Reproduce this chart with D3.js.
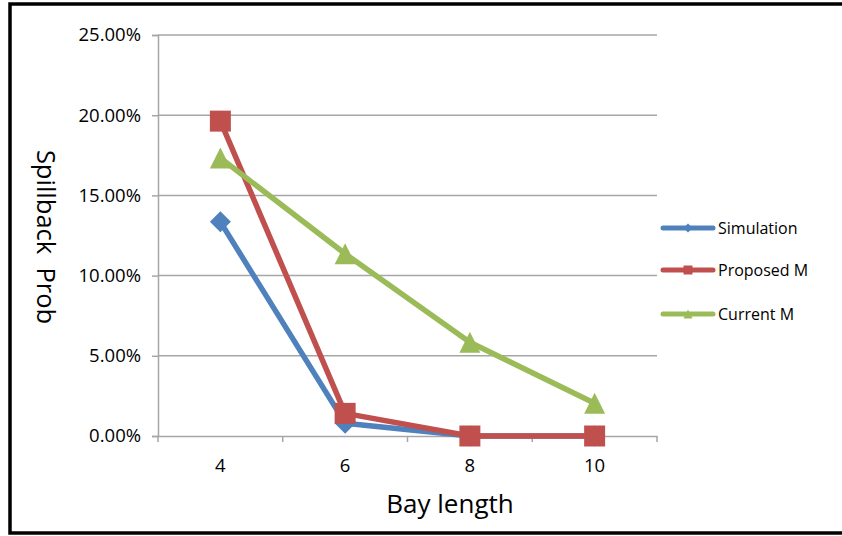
<!DOCTYPE html>
<html>
<head>
<meta charset="utf-8">
<script src="https://cdn.jsdelivr.net/npm/d3@7"></script>
<style>
  html, body { margin: 0; padding: 0; background: #fff; }
  svg { display: block; }
  text { font-family: "Open Sans", "Liberation Sans", sans-serif; fill: #000; }
</style>
</head>
<body>
<svg id="chart" width="842" height="536"></svg>
<script>
// Bay lengths on the category axis
const bayLengths = ["4", "6", "8", "10"];

// Spillback probability per series (fraction)
const simulation = [0.1335, 0.008, 0.0, 0.0];
const proposedM  = [0.1963, 0.0141, 0.0, 0.0];
const currentM   = [0.1733, 0.1136, 0.0585, 0.0204];

const seriesNames = ["Simulation", "Proposed M", "Current M"];
const yTickValues = [0, 0.05, 0.10, 0.15, 0.20, 0.25];

const series = [
  { name: seriesNames[0], values: simulation, color: "#4F81BD", symbol: "diamond" },
  { name: seriesNames[1], values: proposedM,  color: "#C0504D", symbol: "square" },
  { name: seriesNames[2], values: currentM,   color: "#9BBB59", symbol: "triangle" }
];

const svg = d3.select("#chart");

// Outer frame
svg.append("rect")
  .attr("x", 10).attr("y", 4)
  .attr("width", 840).attr("height", 529)
  .attr("fill", "none").attr("stroke", "#000").attr("stroke-width", 3.5);

const plot = { left: 158, right: 657, top: 35, bottom: 436 };

const x = d3.scaleBand().domain(bayLengths).range([plot.left, plot.right]);
const y = d3.scaleLinear().domain([0, 0.25]).range([plot.bottom, plot.top]);

const gridColor = "#A6A6A6";

// Horizontal gridlines
svg.append("g").selectAll("line")
  .data(yTickValues.filter(v => v > 0))
  .join("line")
  .attr("x1", plot.left).attr("x2", plot.right)
  .attr("y1", d => y(d)).attr("y2", d => y(d))
  .attr("stroke", gridColor).attr("stroke-width", 1.5);

// Y axis
const yAxis = svg.append("g")
  .attr("transform", `translate(${plot.left},0)`)
  .call(d3.axisLeft(y).tickValues(yTickValues).tickFormat(d3.format(".2%")).tickSize(6).tickPadding(11));
yAxis.select(".domain").attr("stroke", gridColor).attr("stroke-width", 1.5);
yAxis.selectAll(".tick line").attr("stroke", gridColor).attr("stroke-width", 1.5);
yAxis.selectAll(".tick text").style("font-size", "18.5px").style("font-family", "'Open Sans', sans-serif");

// X axis baseline and labels
const xAxis = svg.append("g")
  .attr("transform", `translate(0,${plot.bottom})`)
  .call(d3.axisBottom(x).tickSize(0).tickPadding(23));
xAxis.select(".domain").attr("stroke", gridColor).attr("stroke-width", 1.5);
xAxis.selectAll(".tick text").style("font-size", "18.5px").style("font-family", "'Open Sans', sans-serif");

// Category boundary tick marks
const boundaries = bayLengths.map(d => x(d)).concat([x.range()[1]]);
svg.append("g").selectAll("line")
  .data(boundaries)
  .join("line")
  .attr("x1", d => d).attr("x2", d => d)
  .attr("y1", plot.bottom).attr("y2", plot.bottom + 6)
  .attr("stroke", gridColor).attr("stroke-width", 1.5);

const cx = d => x(d) + x.bandwidth() / 2;

const symbolPath = (kind, size) => {
  const s = size / 2;
  if (kind === "diamond") return `M0,${-s}L${s},0L0,${s}L${-s},0Z`;
  if (kind === "square") return `M${-s},${-s}H${s}V${s}H${-s}Z`;
  return `M0,${-s}L${s},${s}L${-s},${s}Z`;
};

const line = d3.line().x(d => cx(d.cat)).y(d => y(d.v));

// Series lines with markers
series.forEach(s => {
  const pts = s.values.map((v, i) => ({ cat: bayLengths[i], v }));
  const g = svg.append("g");
  g.append("path")
    .attr("d", line(pts))
    .attr("fill", "none")
    .attr("stroke", s.color)
    .attr("stroke-width", 5.5)
    .attr("stroke-linejoin", "round")
    .attr("stroke-linecap", "round");
  g.selectAll("path.marker")
    .data(pts)
    .join("path")
    .attr("class", "marker")
    .attr("transform", d => `translate(${cx(d.cat)},${y(d.v)})`)
    .attr("d", symbolPath(s.symbol, 21))
    .attr("fill", s.color);
});

// Y axis title
svg.append("text")
  .attr("transform", "translate(47,237) rotate(90)")
  .attr("text-anchor", "middle")
  .attr("dominant-baseline", "central")
  .style("font-size", "25.5px")
  .style("white-space", "pre")
  .attr("xml:space", "preserve")
  .text("Spillback  Prob");

// X axis title
svg.append("text")
  .attr("x", 450).attr("y", 513)
  .attr("text-anchor", "middle")
  .style("font-size", "26px")
  .text("Bay length");

// Legend
const legend = svg.append("g");
const legendRowY = [228, 270, 314];
series.forEach((s, i) => {
  const g = legend.append("g").attr("transform", `translate(0,${legendRowY[i]})`);
  g.append("line")
    .attr("x1", 663).attr("x2", 713)
    .attr("stroke", s.color).attr("stroke-width", 5).attr("stroke-linecap", "round");
  g.append("path")
    .attr("transform", "translate(688,0)")
    .attr("d", symbolPath(s.symbol, 9))
    .attr("fill", s.color);
  g.append("text")
    .attr("x", 718).attr("y", 0)
    .attr("dominant-baseline", "central")
    .style("font-size", "16px")
    .text(s.name);
});
</script>
</body>
</html>
